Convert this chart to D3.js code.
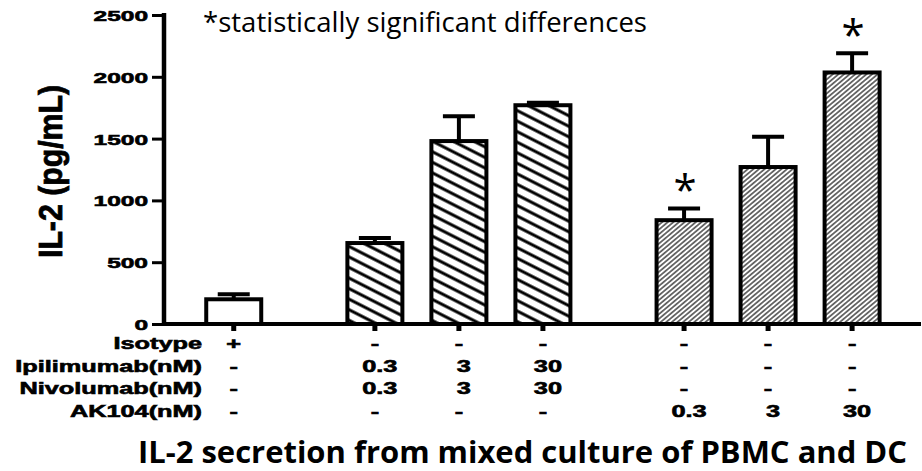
<!DOCTYPE html>
<html>
<head>
<meta charset="utf-8">
<script src="https://cdn.jsdelivr.net/npm/d3@7"></script>
<style>
html,body{margin:0;padding:0;background:#fff;}
svg{display:block;}
</style>
</head>
<body>
<svg id="chart" width="922" height="471"></svg>
<script>
// ---------- data ----------
const categories = ["Isotype", "Ipi+Nivo 0.3", "Ipi+Nivo 3", "Ipi+Nivo 30", "AK104 0.3", "AK104 3", "AK104 30"];
const groups = [0, 1, 1, 1, 2, 2, 2];
const il2Mean = [200, 655, 1480, 1770, 840, 1270, 2035];
const il2Err = [40, 40, 200, 20, 95, 245, 155];
const significant = [false, false, false, false, true, false, true];
const rowLabels = ["Isotype", "Ipilimumab(nM)", "Nivolumab(nM)", "AK104(nM)"];
const isotypeRow = ["+", "-", "-", "-", "-", "-", "-"];
const ipilimumabRow = ["-", "0.3", "3", "30", "-", "-", "-"];
const nivolumabRow = ["-", "0.3", "3", "30", "-", "-", "-"];
const ak104Row = ["-", "-", "-", "-", "0.3", "3", "30"];
const yTicks = [0, 500, 1000, 1500, 2000, 2500];
const yLabel = "IL-2  (pg/mL)";
const note = "*statistically significant differences";
const title = "IL-2 secretion from mixed culture of PBMC and DC";

// ---------- layout ----------
const svg = d3.select("#chart");
const STRETCH = 1.58;
const axisX = 164, axisY = 324;
const groupGap = 0.68;
const slots = categories.map((c, i) => i + groups[i] * groupGap);

const x = d3.scaleLinear().domain([-0.83, 8.18]).range([axisX, 921]);
const y = d3.scaleLinear().domain([0, 2500]).range([axisY, 15]);
const barW = 55;

function stretch(sel, f) {
  sel.each(function () {
    const l = this.getComputedTextLength();
    d3.select(this).attr("textLength", l * (f || STRETCH)).attr("lengthAdjust", "spacingAndGlyphs");
  });
}

// ---------- patterns ----------
const defs = svg.append("defs");
const pA = defs.append("pattern").attr("id", "hatchA").attr("patternUnits", "userSpaceOnUse")
  .attr("width", 9.4).attr("height", 9.4).attr("patternTransform", "rotate(27)");
pA.append("rect").attr("width", 9.4).attr("height", 9.4).attr("fill", "#fff");
pA.append("line").attr("x1", -1).attr("x2", 11).attr("y1", 4.7).attr("y2", 4.7)
  .attr("stroke", "#000").attr("stroke-width", 3);

const pB = defs.append("pattern").attr("id", "hatchB").attr("patternUnits", "userSpaceOnUse")
  .attr("width", 3.6).attr("height", 3.6).attr("patternTransform", "rotate(-40)");
pB.append("rect").attr("width", 3.6).attr("height", 3.6).attr("fill", "#fff");
pB.append("line").attr("x1", -1).attr("x2", 5).attr("y1", 1.8).attr("y2", 1.8)
  .attr("stroke", "#000").attr("stroke-width", 1.1);

const fills = ["#fff", "url(#hatchA)", "url(#hatchB)"];

// ---------- bars ----------
const bars = svg.append("g");
bars.selectAll("rect").data(il2Mean).join("rect")
  .attr("x", (d, i) => x(slots[i]) - barW / 2)
  .attr("y", d => y(d))
  .attr("width", barW)
  .attr("height", d => axisY - y(d))
  .attr("fill", (d, i) => fills[groups[i]])
  .attr("stroke", "#000").attr("stroke-width", 4);

// error bars
const eb = svg.append("g").attr("stroke", "#000").attr("stroke-width", 4);
il2Mean.forEach((m, i) => {
  const cx = x(slots[i]);
  eb.append("line").attr("x1", cx).attr("x2", cx).attr("y1", y(m)).attr("y2", y(m + il2Err[i]));
  eb.append("line").attr("x1", cx - 16).attr("x2", cx + 16).attr("y1", y(m + il2Err[i])).attr("y2", y(m + il2Err[i]));
});

// significance stars
svg.append("g").selectAll("text").data(il2Mean.map((m, i) => ({ m, i })).filter(d => significant[d.i])).join("text")
  .attr("x", d => x(slots[d.i]) + 1)
  .attr("y", d => y(d.m + il2Err[d.i]) - 3)
  .attr("text-anchor", "middle")
  .attr("font-family", "'Open Sans', Lato, sans-serif")
  .attr("font-size", 42)
  .text("*");

// ---------- axes ----------
const boldFont = "'Liberation Sans', Arial, sans-serif";
const yAxis = svg.append("g").attr("transform", `translate(${axisX},0)`)
  .call(d3.axisLeft(y).tickValues(yTicks).tickSize(12).tickSizeOuter(0).tickPadding(4).tickFormat(d3.format("d")));
yAxis.select(".domain").attr("stroke-width", 4.5).attr("d", `M0,${y(2500) - 2}V${axisY + 2}`);
yAxis.selectAll(".tick line").attr("stroke-width", 3);
yAxis.selectAll(".tick text")
  .attr("font-family", boldFont)
  .attr("font-weight", "bold").attr("font-size", 15.5).attr("fill", "#000")
  .attr("stroke", "#000").attr("stroke-width", 0.6)
  .attr("dy", "0.36em");
stretch(yAxis.selectAll(".tick text"));

// x axis line and ticks
svg.append("line").attr("x1", axisX - 2).attr("x2", 921).attr("y1", axisY).attr("y2", axisY)
  .attr("stroke", "#000").attr("stroke-width", 4);
svg.append("g").selectAll("line").data(slots).join("line")
  .attr("x1", d => x(d)).attr("x2", d => x(d))
  .attr("y1", axisY).attr("y2", axisY + 7)
  .attr("stroke", "#000").attr("stroke-width", 5);

// ---------- treatment table ----------
const rows = [isotypeRow, ipilimumabRow, nivolumabRow, ak104Row];
const rowBase = [349, 371.5, 393.5, 417];
const tbl = svg.append("g")
  .attr("font-family", boldFont)
  .attr("font-weight", "bold").attr("font-size", 16).attr("fill", "#000")
  .attr("stroke", "#000").attr("stroke-width", 0.6);
const rl = tbl.selectAll("text.rl").data(rowLabels).join("text").attr("class", "rl")
  .attr("x", 202).attr("y", (d, i) => rowBase[i]).attr("text-anchor", "end").text(d => d);
stretch(rl);
rows.forEach((row, r) => {
  const t = tbl.selectAll("text.v" + r).data(row).join("text").attr("class", "v" + r)
    .attr("x", (d, i) => x(slots[i]) + (d === "-" || d === "+" ? 0 : 5))
    .attr("y", rowBase[r]).attr("text-anchor", "middle").text(d => d);
  stretch(t);
});

// ---------- y label ----------
svg.append("text")
  .attr("transform", `translate(62,171.5) rotate(-90)`)
  .attr("text-anchor", "middle")
  .attr("font-family", boldFont)
  .attr("font-weight", "bold").attr("font-size", 34)
  .attr("stroke", "#000").attr("stroke-width", 0.8)
  .attr("textLength", 173).attr("lengthAdjust", "spacingAndGlyphs")
  .text(yLabel);

// ---------- note & title ----------
svg.append("text").attr("x", 203).attr("y", 32)
  .attr("font-family", "'Open Sans', Lato, sans-serif").attr("font-size", 27)
  .attr("textLength", 444).attr("lengthAdjust", "spacingAndGlyphs")
  .text(note);

svg.append("text").attr("x", 138).attr("y", 463)
  .attr("font-family", "'Open Sans', Lato, sans-serif").attr("font-weight", "bold").attr("font-size", 31)
  .attr("textLength", 769).attr("lengthAdjust", "spacingAndGlyphs")
  .text(title);
</script>
</body>
</html>
